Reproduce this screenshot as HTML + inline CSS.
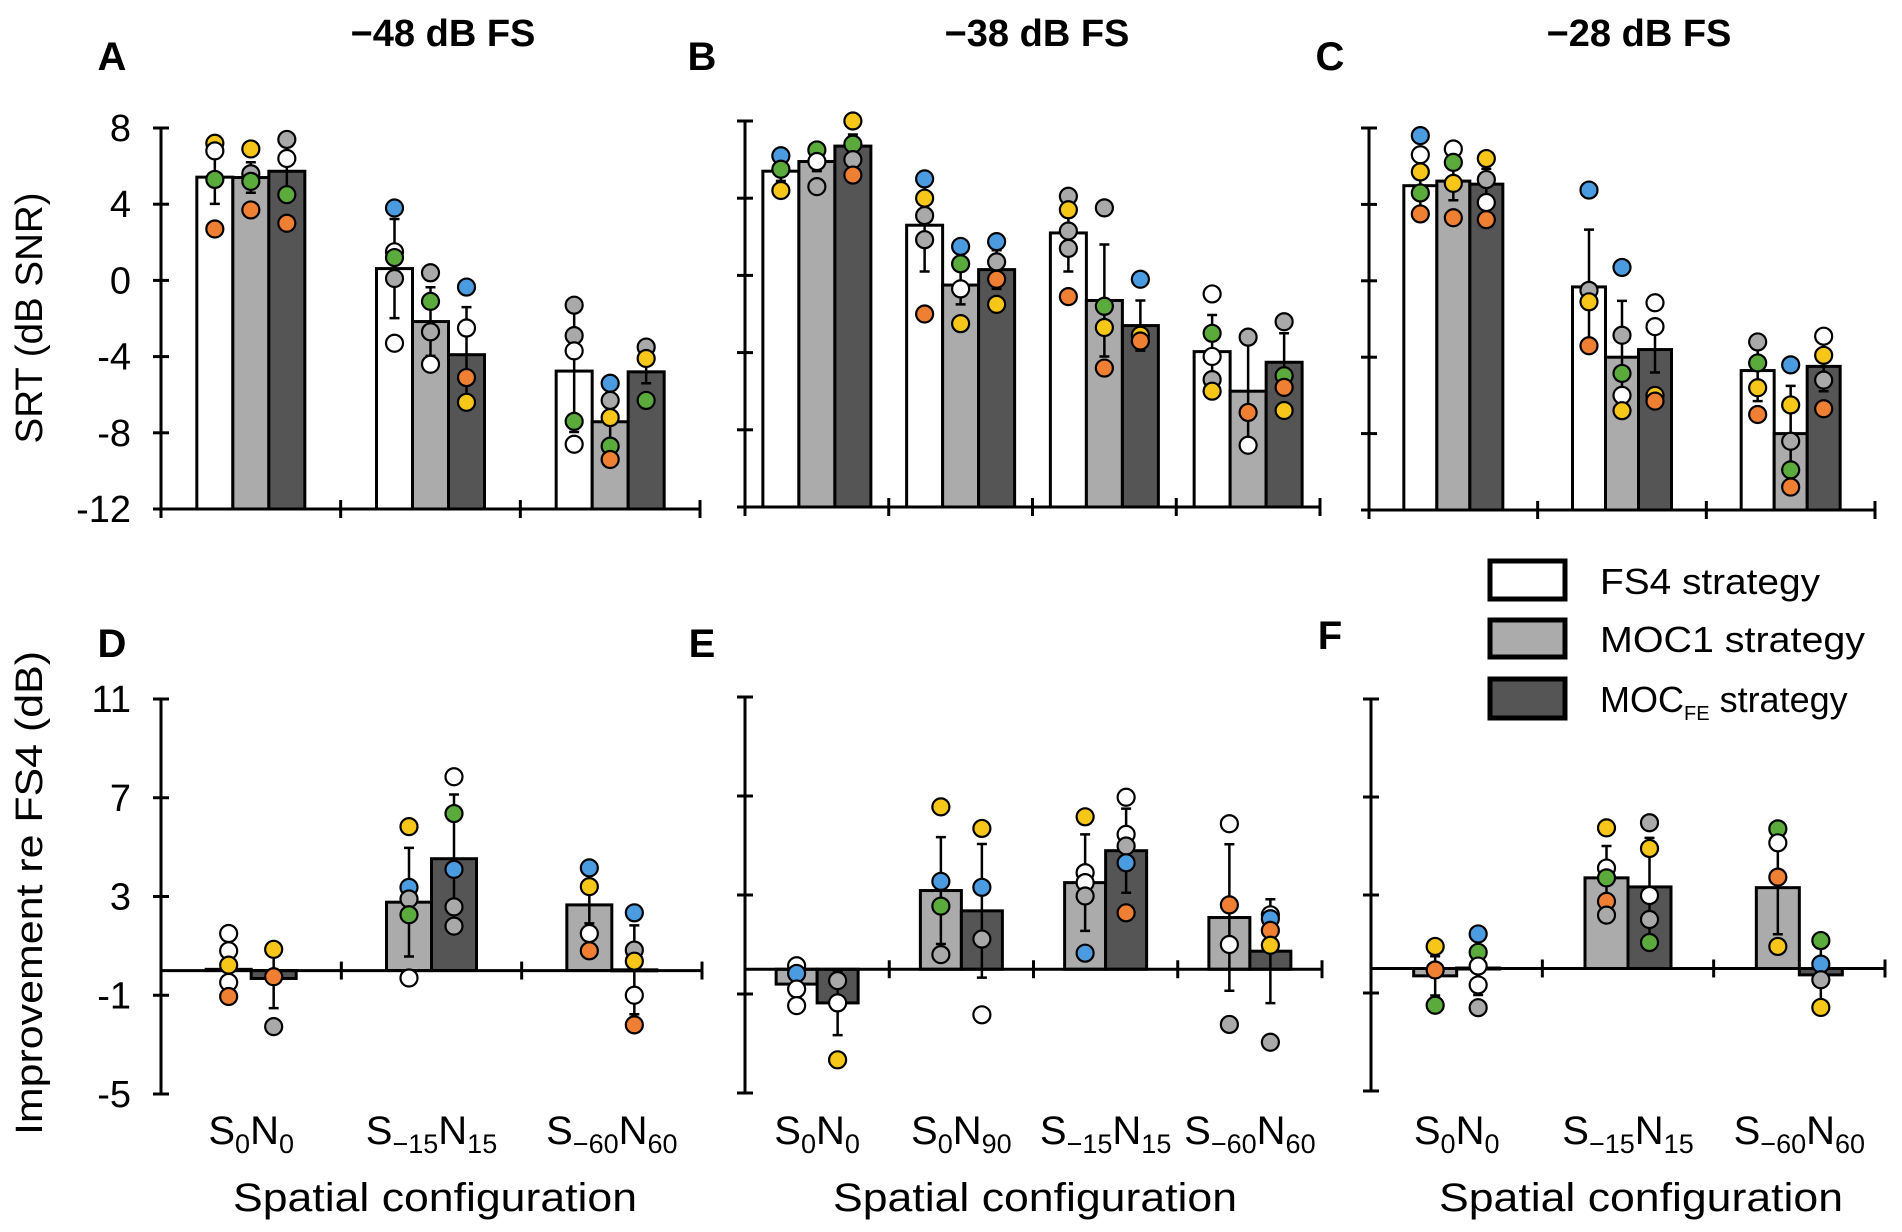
<!DOCTYPE html>
<html><head><meta charset="utf-8">
<style>
html,body{margin:0;padding:0;background:#fff;}
svg{display:block;font-family:"Liberation Sans",sans-serif;}
</style></head>
<body>
<svg id="fig" width="1902" height="1232" viewBox="0 0 1902 1232" xmlns="http://www.w3.org/2000/svg">
<rect x="0" y="0" width="1902" height="1232" fill="#fff"/>
<g font-weight="bold" font-size="38" text-anchor="middle">
<text x="443" y="46">−48 dB FS</text>
<text x="1037" y="46">−38 dB FS</text>
<text x="1639" y="46">−28 dB FS</text>
</g>
<g font-weight="bold" font-size="40" text-anchor="middle">
<text x="112" y="70">A</text>
<text x="702" y="70">B</text>
<text x="1330" y="70">C</text>
<text x="112" y="657">D</text>
<text x="702" y="657">E</text>
<text x="1330" y="649">F</text>
</g>
<text transform="translate(42,318) rotate(-90)" font-size="38" text-anchor="middle" textLength="251" lengthAdjust="spacingAndGlyphs">SRT (dB SNR)</text>
<text transform="translate(42,893) rotate(-90)" font-size="38" text-anchor="middle" textLength="484" lengthAdjust="spacingAndGlyphs">Improvement re FS4 (dB)</text>
<g font-size="40" text-anchor="middle">
<text x="435" y="1211" textLength="404" lengthAdjust="spacingAndGlyphs">Spatial configuration</text>
<text x="1035" y="1211" textLength="404" lengthAdjust="spacingAndGlyphs">Spatial configuration</text>
<text x="1641" y="1211" textLength="404" lengthAdjust="spacingAndGlyphs">Spatial configuration</text>
</g>
<g>
<rect x="1490" y="561" width="75" height="38" fill="#fff" stroke="#000" stroke-width="5"/>
<rect x="1490" y="620" width="75" height="37" fill="#ababab" stroke="#000" stroke-width="5"/>
<rect x="1490" y="679" width="75" height="39" fill="#555" stroke="#000" stroke-width="5"/>
<text x="1600" y="594" font-size="36" textLength="220" lengthAdjust="spacingAndGlyphs">FS4 strategy</text>
<text x="1600" y="652" font-size="36" textLength="265" lengthAdjust="spacingAndGlyphs">MOC1 strategy</text>
<text x="1600" y="712" font-size="36">MOC<tspan font-size="20" dy="8">FE</tspan><tspan dy="-8"> strategy</tspan></text>
</g>
</svg>
<script>
// ---------- DATA ----------
const seriesNames = ["FS4", "MOC1", "MOCFE"];
const srtTicks = [8, 4, 0, -4, -8, -12];
const impTicks = [11, 7, 3, -1, -5];
const catsThree = [["0","0"],["−15","15"],["−60","60"]];
const catsFour = [["0","0"],["0","90"],["−15","15"],["−60","60"]];

// Panel A (-48 dB FS): means per series [group]
const aMeans = [[5.42, 0.62, -4.76], [5.4, -2.16, -7.42], [5.73, -3.9, -4.8]];
const aSD = [[1.4, 2.6, 3.2], [0.8, 1.8, 1.5], [0.9, 2.5, 0.6]];
const aDotVals = [
  [[7.2, 6.8, 5.3, 2.7], [3.8, 1.5, 1.2, 0.1, -3.3], [-1.3, -2.9, -3.7, -7.4, -8.6]],
  [[6.9, 5.6, 5.2, 3.7], [0.4, -1.1, -2.7, -4.4], [-5.4, -6.3, -7.2, -8.7, -9.4]],
  [[7.4, 6.4, 4.5, 3.0], [-0.35, -2.5, -5.1, -6.4], [-3.5, -4.1, -6.3]]];
const aDotCols = [
  [["y","w","g","o"], ["b","w","g","k","w"], ["k","k","w","g","w"]],
  [["y","k","g","o"], ["k","g","k","w"], ["b","k","y","g","o"]],
  [["k","w","g","o"], ["b","w","o","y"], ["k","y","g"]]];

// Panel B (-38 dB FS)
const bMeans = [[5.4, 2.6, 2.2, -3.95], [5.9, -0.5, -1.3, -6.0], [6.7, 0.3, -2.6, -4.5]];
const bSD = [[0.5, 2.4, 2.0, 1.9], [0.5, 1.0, 2.9, 2.6], [0.6, 1.0, 1.3, 1.5]];
const bDotVals = [
  [[6.2, 5.5, 4.4], [5.0, 4.0, 3.1, 1.85, -2.0], [4.1, 3.4, 2.3, 1.4, -1.1], [-0.96, -3.0, -4.2, -5.4, -6.0]],
  [[6.5, 5.9, 4.6], [1.5, 0.6, -0.7, -2.5], [3.5, -1.6, -2.7, -4.8], [-3.2, -7.1, -8.8]],
  [[8.0, 6.8, 6.0, 5.2], [1.75, 0.7, -0.2, -1.5], [-0.2, -3.1, -3.4], [-2.4, -5.2, -5.8, -7.0]]];
const bDotCols = [
  [["b","g","y"], ["b","y","k","k","o"], ["k","y","k","k","o"], ["w","g","w","k","y"]],
  [["g","w","k"], ["b","g","w","y"], ["k","g","y","o"], ["k","o","w"]],
  [["y","g","k","o"], ["b","k","o","y"], ["b","y","o"], ["k","g","o","y"]]];

// Panel C (-28 dB FS)
const cMeans = [[4.98, -0.32, -4.7], [5.22, -4.0, -8.0], [5.06, -3.6, -4.48]];
const cSD = [[1.8, 3.0, 1.6], [1.0, 2.95, 2.5], [0.8, 1.2, 1.3]];
const cDotVals = [
  [[7.6, 6.6, 5.7, 4.6, 3.5], [4.75, -0.5, -1.1, -3.4], [-3.2, -4.3, -5.6, -7.0]],
  [[6.9, 6.2, 5.1, 3.3], [0.7, -2.85, -4.85, -6.0, -6.8], [-4.4, -6.5, -8.4, -9.9, -10.8]],
  [[6.4, 5.3, 4.1, 3.2], [-1.15, -2.4, -6.0, -6.3], [-2.9, -3.9, -5.2, -6.7]]];
const cDotCols = [
  [["b","w","y","g","o"], ["b","k","y","o"], ["k","g","y","o"]],
  [["w","g","y","o"], ["b","k","g","w","y"], ["b","y","k","g","o"]],
  [["y","k","w","o"], ["w","w","y","o"], ["w","y","k","o"]]];

// Panel D (improvement, -48 dB FS): series MOC1, MOCFE
const dMeans = [[0.05, 2.77, 2.66], [-0.32, 4.53, 0.03]];
const dSD = [[0.9, 2.2, 0.75], [1.2, 2.6, 1.8]];
const dDotVals = [
  [[1.5, 0.8, 0.22, -0.48, -1.05], [5.83, 3.37, 2.9, 2.26, -0.3], [4.16, 3.4, 1.5, 0.8]],
  [[0.86, -0.25, -2.27], [7.85, 6.36, 4.1, 2.58, 1.8], [2.34, 0.83, 0.38, -1.0, -2.2]]];
const dDotCols = [
  [["w","w","y","w","o"], ["y","b","k","g","w"], ["b","y","w","o"]],
  [["y","o","k"], ["w","g","b","k","k"], ["b","k","y","w","o"]]];

// Panel E (improvement, -38 dB FS)
const eMeans = [[-0.6, 3.18, 3.5, 2.09], [-1.36, 2.36, 4.79, 0.73]];
const eSD = [[0.3, 2.16, 1.95, 2.96], [1.3, 2.7, 1.7, 2.1]];
const eDotVals = [
  [[0.14, -0.17, -0.8, -1.47], [6.56, 3.55, 2.55, 0.59], [6.16, 3.9, 3.5, 2.96, 0.65], [5.88, 2.6, 1.0, -2.23]],
  [[-0.46, -1.36, -3.66], [5.69, 3.31, 1.22, -1.84], [6.95, 5.45, 4.98, 4.3, 2.28], [2.2, 2.04, 1.57, 0.97, -2.95]]];
const eDotCols = [
  [["w","b","w","w"], ["y","b","g","k"], ["y","w","w","k","b"], ["w","o","w","k"]],
  [["k","w","y"], ["y","b","k","w"], ["w","w","k","b","o"], ["w","b","o","y","k"]]];

// Panel F (improvement, -28 dB FS)
const fMeans = [[-0.3, 3.7, 3.3], [0.02, 3.33, -0.26]];
const fSD = [[0.8, 1.3, 1.9], [1.1, 2.0, 1.1]];
const fDotVals = [
  [[0.9, -0.06, -1.5], [5.74, 4.1, 3.7, 2.74, 2.18], [5.7, 5.13, 3.73, 0.9]],
  [[1.41, 0.66, 0.1, -0.67, -1.6], [5.95, 4.9, 2.98, 2.0, 1.06], [1.14, 0.18, -0.46, -1.59]]];
const fDotCols = [
  [["y","o","g"], ["y","w","g","o","k"], ["g","w","o","y"]],
  [["b","g","w","w","k"], ["k","y","w","k","g"], ["g","b","k","y"]]];

// ---------- RENDER ----------
const NS = "http://www.w3.org/2000/svg";
const svg = document.getElementById("fig");
const dotColor = {w:"#ffffff", k:"#a9a9a9", b:"#4b9be0", g:"#5aab3c", y:"#f6c619", o:"#ef7f32"};
const barFill = {FS4:"#ffffff", MOC1:"#ababab", MOCFE:"#555555"};

function mk(tag, attrs, parent) {
  const el = document.createElementNS(NS, tag);
  for (const k in attrs) el.setAttribute(k, attrs[k]);
  (parent || svg).appendChild(el);
  return el;
}

function drawPanel(p) {
  const g = mk("g", {});
  
  
  const yS = v => p.yTop + (p.vmax - v) / (p.vmax - p.vmin) * (p.yBot - p.yTop);
  const nG = p.means[0].length;
  const gW = (p.xEnd - p.ox) / nG;
  const nB = p.means.length;
  const baseY = yS(p.base);
  for (let s = 0; s < nB; s++) {
    for (let i = 0; i < nG; i++) {
      const cx = p.ox + gW * (i + 0.5) + (s - (nB - 1) / 2) * p.barW;
      const v = p.means[s][i];
      const y1 = yS(v);
      const r = mk("rect", {x: cx - p.barW / 2, y: Math.min(y1, baseY), width: p.barW,
        height: Math.max(Math.abs(baseY - y1), 1), fill: barFill[p.series[s]], stroke: "#000", "stroke-width": 3}, g);
      
      
      const sd = p.sd[s][i];
      const e = mk("path", {d: `M${cx},${yS(v + sd)}V${yS(v - sd)}M${cx - 5},${yS(v + sd)}h10M${cx - 5},${yS(v - sd)}h10`,
        stroke: "#000", "stroke-width": 2.5, fill: "none"}, g);
      
      
    }
  }
  const ax = mk("path", {d: `M${p.ox},${yS(p.vmax)}V${yS(p.vmin)}`, stroke: "#000", "stroke-width": 3, fill: "none"}, g);
  
  
  p.ticks.forEach(t => {
    const tk = mk("path", {d: `M${p.ox - 8},${yS(t)}H${p.ox + 8}`, stroke: "#000", "stroke-width": 3}, g);
    
    
    if (p.labels) {
      const tl = mk("text", {x: p.ox - 30, y: yS(t) + 13, "font-size": 38, "text-anchor": "end"}, g);
      tl.textContent = String(t);
      
      
    }
  });
  const xa = mk("path", {d: `M${p.ox},${baseY}H${p.xEnd}`, stroke: "#000", "stroke-width": 3, fill: "none"}, g);
  
  
  for (let i = 0; i <= nG; i++) {
    const x = p.ox + gW * i;
    const tk = mk("path", {d: `M${x},${baseY - 9}V${baseY + 9}`, stroke: "#000", "stroke-width": 3}, g);
    
    
  }
  for (let s = 0; s < nB; s++) {
    for (let i = 0; i < nG; i++) {
      const cx = p.ox + gW * (i + 0.5) + (s - (nB - 1) / 2) * p.barW;
      p.dots[s][i].forEach((v, k) => {
        const c = mk("circle", {cx: cx, cy: yS(v), r: 8.5, fill: dotColor[p.cols[s][i][k]], stroke: "#000", "stroke-width": 2.2}, g);
        
        
      });
    }
  }
  if (p.cats) {
    p.cats.forEach((c, i) => {
      const x = p.ox + gW * (i + 0.5);
      const t = mk("text", {x: x, y: 1144, "font-size": 40, "text-anchor": "middle"}, g);
      
      
      const parts = [["S", 0], [c[0], 1], ["N", 0], [c[1], 1]];
      let prevSub = false;
      parts.forEach(([txt, sub]) => {
        const ts = mk("tspan", {}, t);
        if (sub) { ts.setAttribute("font-size", 27); ts.setAttribute("dy", 9); }
        else if (prevSub) { ts.setAttribute("dy", -9); }
        ts.textContent = txt;
        prevSub = !!sub;
      });
    });
  }
}

const top3 = ["FS4", "MOC1", "MOCFE"], bot2 = ["MOC1", "MOCFE"];
drawPanel({id:"a", ox:161, xEnd:700, yTop:128, yBot:509, vmax:8, vmin:-12, base:-12, barW:36, series:top3,
  means:aMeans, sd:aSD, dots:aDotVals, cols:aDotCols, ticks:srtTicks, labels:true});
drawPanel({id:"b", ox:745, xEnd:1320, yTop:121, yBot:507, vmax:8, vmin:-12, base:-12, barW:36, series:top3,
  means:bMeans, sd:bSD, dots:bDotVals, cols:bDotCols, ticks:srtTicks, labels:false});
drawPanel({id:"c", ox:1369, xEnd:1875, yTop:128, yBot:510, vmax:8, vmin:-12, base:-12, barW:33, series:top3,
  means:cMeans, sd:cSD, dots:cDotVals, cols:cDotCols, ticks:srtTicks, labels:false});
drawPanel({id:"d", ox:161, xEnd:702, yTop:699, yBot:1094, vmax:11, vmin:-5, base:0, barW:45, series:bot2,
  means:dMeans, sd:dSD, dots:dDotVals, cols:dDotCols, ticks:impTicks, labels:true, cats:catsThree});
drawPanel({id:"e", ox:745, xEnd:1322, yTop:697, yBot:1093, vmax:11, vmin:-5, base:0, barW:41, series:bot2,
  means:eMeans, sd:eSD, dots:eDotVals, cols:eDotCols, ticks:impTicks, labels:false, cats:catsFour});
drawPanel({id:"f", ox:1371, xEnd:1885, yTop:699, yBot:1091, vmax:11, vmin:-5, base:0, barW:43, series:bot2,
  means:fMeans, sd:fSD, dots:fDotVals, cols:fDotCols, ticks:impTicks, labels:false, cats:catsThree});
</script>
</body></html>
